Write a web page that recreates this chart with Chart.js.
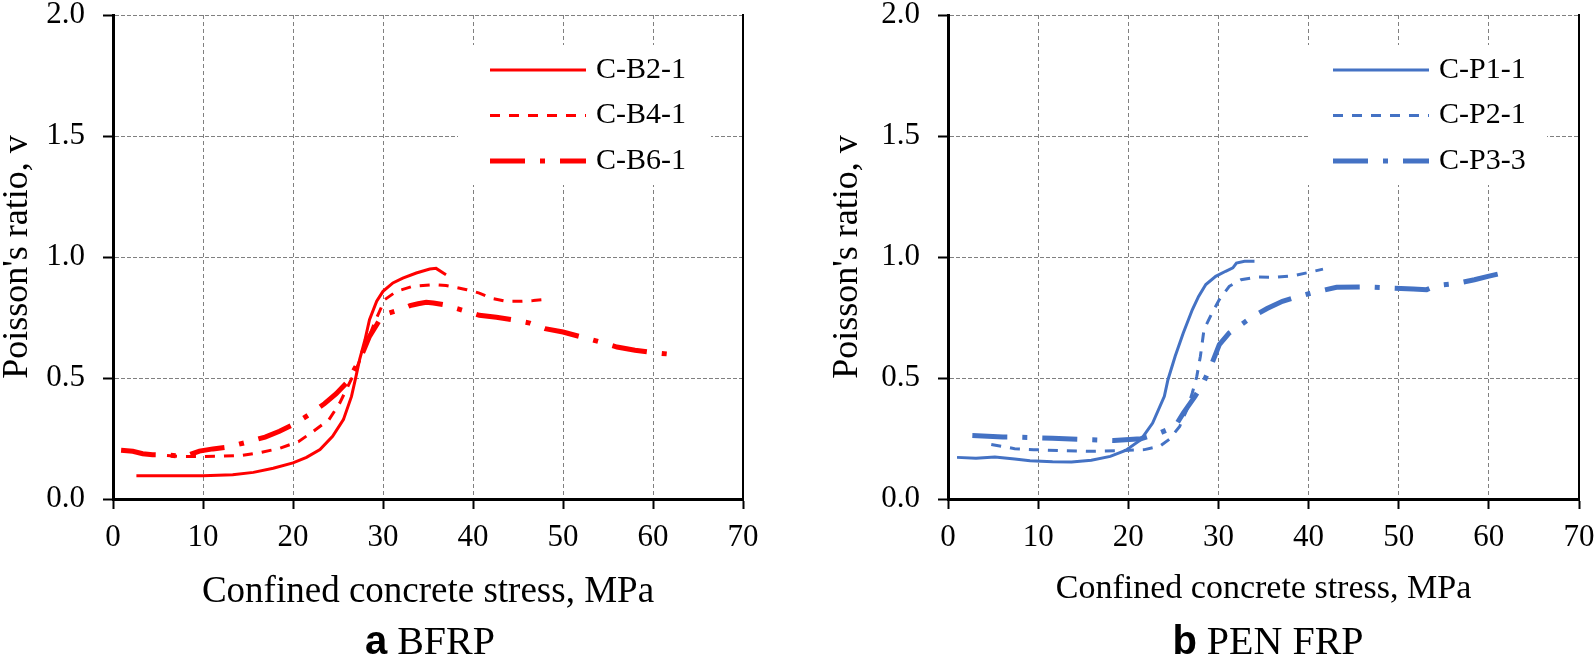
<!DOCTYPE html>
<html>
<head>
<meta charset="utf-8">
<script src="https://cdn.jsdelivr.net/npm/chart.js@4.4.1/dist/chart.umd.min.js"></script>
<style>
    body { margin: 0; background: #fff; overflow: hidden; }
    #wrap { position: relative; width: 1594px; height: 670px; background: #fff; }
    .panel { position: absolute; top: 0; width: 797px; height: 670px; }
    .cap {
        position: absolute; top: 620px; width: 400px; text-align: center;
        font: 40px/1 "Liberation Serif", "Times New Roman", serif; color: #000;
    }
    .cap b { font-family: "Liberation Sans", Arial, sans-serif; font-weight: 700; }
</style>
</head>
<body>
<div id="wrap">
    <div class="panel" style="left:0"><canvas id="bfrpChart" width="797" height="670"></canvas></div>
    <div class="panel" style="left:797px"><canvas id="penChart" width="797" height="670"></canvas></div>
    <div class="cap" style="left:230px"><b>a</b> BFRP</div>
    <div class="cap" style="left:1068px"><b>b</b> PEN FRP</div>
</div>
<script>
// values (stress in MPa, Poisson's ratio)
const b21Stress = [2.6, 10, 13.3, 15.6, 17.8, 20, 21.5, 23.0, 24.4, 25.6, 26.5, 27.0, 27.4, 28.0, 28.5, 29.3, 30.0, 31.1, 32.2, 33.7, 35.2, 35.9, 37.0];
const b21Ratio = [0.096, 0.096, 0.10, 0.11, 0.127, 0.149, 0.172, 0.204, 0.259, 0.328, 0.424, 0.507, 0.576, 0.658, 0.741, 0.817, 0.858, 0.893, 0.913, 0.934, 0.950, 0.953, 0.927];

const b41Stress = [6.0, 7.4, 10, 12, 14.3, 16.5, 18.5, 20.6, 22.2, 24.0, 25.2, 26.1, 27.0, 28.1, 29.2, 30.2, 31.5, 33.3, 35.6, 37.0, 39.3, 40.7, 42.2, 43.7, 45.2, 46.7, 47.8];
const b41Ratio = [0.18, 0.176, 0.176, 0.177, 0.18, 0.193, 0.209, 0.237, 0.278, 0.328, 0.397, 0.466, 0.534, 0.638, 0.741, 0.824, 0.858, 0.879, 0.886, 0.882, 0.865, 0.851, 0.828, 0.817, 0.817, 0.820, 0.824];

const b61Stress = [0.9, 2.2, 3.3, 4.4, 5.9, 8.0, 9.6, 11.1, 12.8, 14.8, 16.9, 18.5, 20.0, 21.9, 23.5, 24.8, 26.1, 27.0, 27.8, 28.5, 29.3, 29.9, 30.7, 31.9, 33.0, 33.9, 34.8, 35.6, 36.7, 38.0, 39.3, 40.7, 42.6, 44.4, 46.3, 48.0, 50.0, 52.0, 54.0, 56.0, 58.0, 60.0, 62.0];
const b61Ratio = [0.201, 0.197, 0.187, 0.183, 0.182, 0.176, 0.198, 0.207, 0.215, 0.234, 0.256, 0.280, 0.307, 0.351, 0.394, 0.435, 0.486, 0.548, 0.610, 0.672, 0.720, 0.758, 0.769, 0.782, 0.799, 0.807, 0.813, 0.810, 0.803, 0.789, 0.775, 0.759, 0.751, 0.741, 0.727, 0.704, 0.690, 0.670, 0.650, 0.628, 0.615, 0.605, 0.598];

const p11Stress = [1.0, 3.1, 5.2, 7.4, 9.1, 11.6, 13.7, 15.9, 18.0, 19.7, 21.4, 22.7, 24.0, 24.4, 25.2, 26.1, 27.1, 27.8, 28.6, 29.7, 30.8, 31.6, 32.0, 32.9, 34.0];
const p11Ratio = [0.172, 0.168, 0.174, 0.165, 0.158, 0.154, 0.153, 0.160, 0.176, 0.201, 0.245, 0.314, 0.424, 0.493, 0.590, 0.686, 0.782, 0.837, 0.886, 0.920, 0.941, 0.955, 0.975, 0.982, 0.982];

const p21Stress = [4.8, 7.4, 9.5, 12.5, 15.9, 19.3, 21.8, 23.5, 24.6, 25.7, 26.5, 27.1, 27.6, 28.0, 28.4, 29.3, 30.1, 31.2, 32.5, 34.2, 36.3, 38.4, 40.1, 41.6];
const p21Ratio = [0.225, 0.208, 0.204, 0.200, 0.197, 0.200, 0.204, 0.218, 0.248, 0.300, 0.369, 0.438, 0.507, 0.590, 0.700, 0.769, 0.824, 0.879, 0.906, 0.917, 0.916, 0.923, 0.937, 0.950];

const p33Stress = [2.7, 6.1, 8.2, 11.6, 15.9, 18.4, 21.4, 23.5, 25.2, 26.1, 27.4, 28.4, 29.3, 30.1, 31.2, 32.5, 33.7, 35.4, 37.1, 38.9, 40.6, 43.1, 46.5, 49.5, 51.6, 53.1, 54.2, 56.3, 58.4, 59.9, 61.2];
const p33Ratio = [0.262, 0.256, 0.255, 0.251, 0.245, 0.242, 0.249, 0.273, 0.300, 0.355, 0.424, 0.486, 0.562, 0.638, 0.686, 0.720, 0.752, 0.787, 0.817, 0.837, 0.854, 0.875, 0.876, 0.871, 0.868, 0.865, 0.882, 0.890, 0.906, 0.920, 0.931];

const SERIF = '"Liberation Serif", "Times New Roman", serif';
const toPoints = (xs, ys) => xs.map((x, i) => ({ x: x, y: ys[i] }));

Chart.defaults.font.family = SERIF;
Chart.defaults.color = '#000';

// legend drawn inside the plot, on a white patch over the grid
const insideLegend = {
    id: 'insideLegend',
    afterDatasetsDraw(chart, args, opts) {
        const ctx = chart.ctx;
        const box = opts.box;
        ctx.save();
        ctx.fillStyle = '#fff';
        ctx.fillRect(box[0], box[1], box[2] - box[0], box[3] - box[1]);
        ctx.font = '30px ' + SERIF;
        ctx.textBaseline = 'middle';
        chart.data.datasets.forEach((ds, i) => {
            const y = opts.top + i * opts.rowGap;
            ctx.strokeStyle = ds.borderColor;
            ctx.lineWidth = ds.borderWidth;
            ctx.lineCap = 'butt';
            ctx.setLineDash(ds.borderDash || []);
            ctx.beginPath();
            ctx.moveTo(opts.x, y);
            ctx.lineTo(opts.x + 96, y);
            ctx.stroke();
            ctx.fillStyle = '#000';
            ctx.fillText(ds.label, opts.x + 106, y);
        });
        ctx.restore();
    }
};

function series(label, xs, ys, color, style) {
    const s = {
        label: label,
        data: toPoints(xs, ys),
        borderColor: color,
        backgroundColor: color,
        pointRadius: 0,
        tension: 0,
        fill: false
    };
    if (style === 'solid') { s.borderWidth = 3; s.borderDash = []; }
    if (style === 'dash') { s.borderWidth = 3; s.borderDash = [10, 9]; }
    if (style === 'dashdot') { s.borderWidth = 5; s.borderDash = [35, 15, 5, 15]; }
    return s;
}

function makeOptions(cfg) {
    return {
        responsive: false,
        animation: false,
        layout: { padding: { left: 0, top: 15, right: cfg.padRight, bottom: 58 } },
        plugins: {
            legend: { display: false },
            tooltip: { enabled: false },
            insideLegend: cfg.legend
        },
        scales: {
            x: {
                type: 'linear',
                min: 0,
                max: 70,
                ticks: { stepSize: 10, padding: 10, font: { family: SERIF, size: 31 } },
                grid: { color: '#808080', lineWidth: 1, tickColor: '#000', tickWidth: 2, tickLength: 10 },
                border: { color: '#000', width: 3, dash: [4, 3] },
                title: {
                    display: true,
                    text: 'Confined concrete stress, MPa',
                    font: { family: SERIF, size: cfg.xTitleSize, lineHeight: 1 },
                    padding: { top: 0, bottom: cfg.xTitlePad }
                },
                afterFit: function (scale) {
                    scale.height = 113;
                    scale.paddingLeft = 0;
                    scale.paddingRight = 0;
                }
            },
            y: {
                min: 0,
                max: 2,
                ticks: {
                    stepSize: 0.5,
                    padding: 18,
                    font: { family: SERIF, size: 31 },
                    callback: function (value) { return value.toFixed(1); }
                },
                grid: { color: '#808080', lineWidth: 1, tickColor: '#000', tickWidth: 2, tickLength: 10 },
                border: { color: '#000', width: 3, dash: [4, 2] },
                title: {
                    display: true,
                    text: "Poisson's ratio, v",
                    font: { family: SERIF, size: 36, lineHeight: 1 },
                    padding: { top: cfg.yTitlePad, bottom: 0 }
                },
                afterFit: function (scale) {
                    scale.width = cfg.yWidth;
                    scale.paddingTop = 0;
                    scale.paddingBottom = 0;
                }
            },
            frameRight: {
                type: 'linear',
                position: 'right',
                grid: { drawOnChartArea: false, drawTicks: false },
                ticks: { display: false },
                border: { color: '#000', width: 2 },
                afterFit: function (scale) {
                    scale.width = 0;
                    scale.paddingTop = 0;
                    scale.paddingBottom = 0;
                }
            }
        }
    };
}

new Chart(document.getElementById('bfrpChart').getContext('2d'), {
    type: 'line',
    data: {
        datasets: [
            series('C-B2-1', b21Stress, b21Ratio, '#ff0000', 'solid'),
            series('C-B4-1', b41Stress, b41Ratio, '#ff0000', 'dash'),
            series('C-B6-1', b61Stress, b61Ratio, '#ff0000', 'dashdot')
        ]
    },
    options: makeOptions({
        padRight: 54,
        yWidth: 113,
        yTitlePad: 0,
        xTitleSize: 37,
        xTitlePad: 1,
        legend: { box: [458, 45, 711, 185], x: 490, top: 70, rowGap: 45.5 }
    }),
    plugins: [insideLegend]
});

new Chart(document.getElementById('penChart').getContext('2d'), {
    type: 'line',
    data: {
        datasets: [
            series('C-P1-1', p11Stress, p11Ratio, '#4472c4', 'solid'),
            series('C-P2-1', p21Stress, p21Ratio, '#4472c4', 'dash'),
            series('C-P3-3', p33Stress, p33Ratio, '#4472c4', 'dashdot')
        ]
    },
    options: makeOptions({
        padRight: 15,
        yWidth: 151,
        yTitlePad: 33,
        xTitleSize: 34,
        xTitlePad: 6,
        legend: { box: [511, 45, 750, 185], x: 536, top: 70, rowGap: 45.5 }
    }),
    plugins: [insideLegend]
});
</script>
</body>
</html>
